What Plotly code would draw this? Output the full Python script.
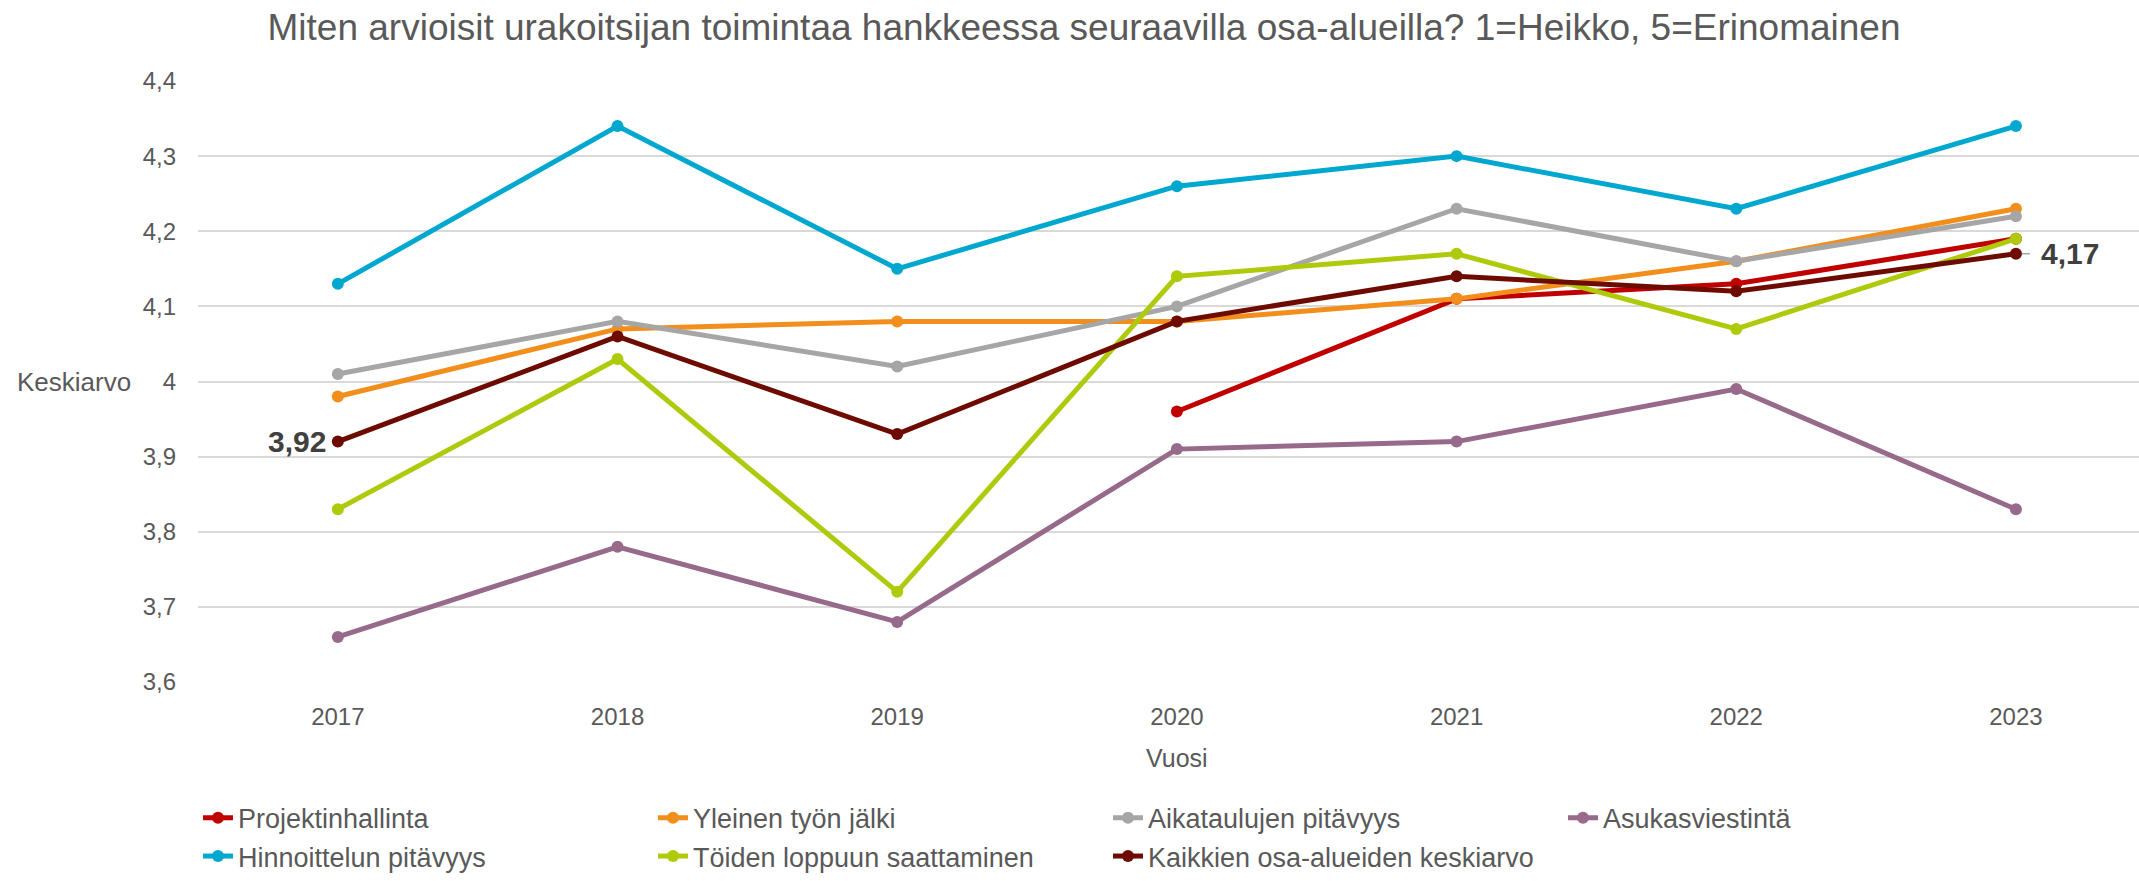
import plotly.graph_objects as go

# Survey years and average ratings (1 = Heikko, 5 = Erinomainen)
years = [2017, 2018, 2019, 2020, 2021, 2022, 2023]
projektinhallinta = [None, None, None, 3.96, 4.11, 4.13, 4.19]
yleinen_tyon_jalki = [3.98, 4.07, 4.08, 4.08, 4.11, 4.16, 4.23]
aikataulujen_pitavyys = [4.01, 4.08, 4.02, 4.10, 4.23, 4.16, 4.22]
asukasviestinta = [3.66, 3.78, 3.68, 3.91, 3.92, 3.99, 3.83]
hinnoittelun_pitavyys = [4.13, 4.34, 4.15, 4.26, 4.30, 4.23, 4.34]
toiden_loppuun_saattaminen = [3.83, 4.03, 3.72, 4.14, 4.17, 4.07, 4.19]
kaikkien_keskiarvo = [3.92, 4.06, 3.93, 4.08, 4.14, 4.12, 4.17]

y_tickvals = [3.6, 3.7, 3.8, 3.9, 4.0, 4.1, 4.2, 4.3, 4.4]
y_ticktext = ["3,6", "3,7", "3,8", "3,9", "4", "4,1", "4,2", "4,3", "4,4"]
x_ticktext = [str(y) for y in years]

FONT = "Liberation Sans, Arial, sans-serif"
TEXT_COLOR = "#595959"

series = [
    ("Projektinhallinta", projektinhallinta, "#C00000", "legend"),
    ("Yleinen työn jälki", yleinen_tyon_jalki, "#F28E1C", "legend"),
    ("Aikataulujen pitävyys", aikataulujen_pitavyys, "#A6A6A6", "legend"),
    ("Asukasviestintä", asukasviestinta, "#97698A", "legend"),
    ("Hinnoittelun pitävyys", hinnoittelun_pitavyys, "#00A8D0", "legend2"),
    ("Töiden loppuun saattaminen", toiden_loppuun_saattaminen, "#AFCA0B", "legend2"),
    ("Kaikkien osa-alueiden keskiarvo", kaikkien_keskiarvo, "#6E0B00", "legend2"),
]

fig = go.Figure()
for name, values, color, legend in series:
    fig.add_trace(go.Scatter(
        x=years, y=values, name=name, mode="lines+markers",
        line=dict(color=color, width=5),
        marker=dict(color=color, size=12),
        legend=legend,
        connectgaps=False,
    ))


def fmt(v):
    return f"{v:.2f}".replace(".", ",")


# Value labels for the overall average at the first and last year
fig.add_annotation(
    x=years[0], y=kaikkien_keskiarvo[0], xref="x", yref="y",
    text=f"<b>{fmt(kaikkien_keskiarvo[0])}</b>", showarrow=False,
    xanchor="right", yanchor="middle", xshift=-10,
    font=dict(family=FONT, size=30, color="#404040"),
)
fig.add_annotation(
    x=years[-1], y=kaikkien_keskiarvo[-1], xref="x", yref="y",
    text=f"<b>{fmt(kaikkien_keskiarvo[-1])}</b>", showarrow=True,
    ax=14, ay=0, axref="pixel", ayref="pixel", xanchor="left", yanchor="middle",
    arrowhead=0, arrowwidth=1.5, arrowcolor="#A6A6A6", standoff=6, borderpad=10,
    font=dict(family=FONT, size=30, color="#404040"),
)

# Axis titles
fig.add_annotation(
    x=years[3], y=-0.1265, xref="x", yref="paper", text="Vuosi", showarrow=False,
    xanchor="center", yanchor="middle", font=dict(family=FONT, size=25, color=TEXT_COLOR),
)
fig.add_annotation(
    x=-0.0943, y=4.0, xref="paper", yref="y", text="Keskiarvo", showarrow=False,
    xanchor="left", yanchor="middle", font=dict(family=FONT, size=26, color=TEXT_COLOR),
)

legend_style = dict(
    orientation="h", xanchor="left",
    entrywidth=410, entrywidthmode="pixels", itemwidth=30,
    font=dict(family=FONT, size=27, color=TEXT_COLOR),
    bgcolor="rgba(0,0,0,0)", borderwidth=0,
    itemclick=False, itemdoubleclick=False,
)

fig.update_layout(
    width=2139, height=881,
    margin=dict(l=198, r=0, t=81, b=199, autoexpand=False),
    paper_bgcolor="white", plot_bgcolor="white",
    title=dict(
        text="Miten arvioisit urakoitsijan toimintaa hankkeessa seuraavilla osa-alueilla? 1=Heikko, 5=Erinomainen",
        x=1084 / 2139, xanchor="center", xref="container",
        y=1 - 27 / 881, yanchor="middle", yref="container",
        font=dict(family=FONT, size=37, color=TEXT_COLOR),
    ),
    xaxis=dict(
        range=[years[0] - 0.5, years[-1] + 0.44],
        tickvals=years, ticktext=x_ticktext,
        showgrid=False, zeroline=False, showline=False, ticks="",
        ticklabelstandoff=18, automargin=False,
        tickfont=dict(family=FONT, size=24, color=TEXT_COLOR),
    ),
    yaxis=dict(
        range=[3.6, 4.4],
        tickvals=y_tickvals, ticktext=y_ticktext,
        showgrid=True, gridcolor="#D9D9D9", gridwidth=2,
        zeroline=False, showline=False, ticks="",
        ticklabelstandoff=21, automargin=False,
        tickfont=dict(family=FONT, size=24, color=TEXT_COLOR),
    ),
    legend=dict(x=0, y=-0.2265, yanchor="middle", **legend_style),
    legend2=dict(x=0, y=0, yref="container", yanchor="bottom", **legend_style),
    showlegend=True,
)

fig.write_html("out.html")
